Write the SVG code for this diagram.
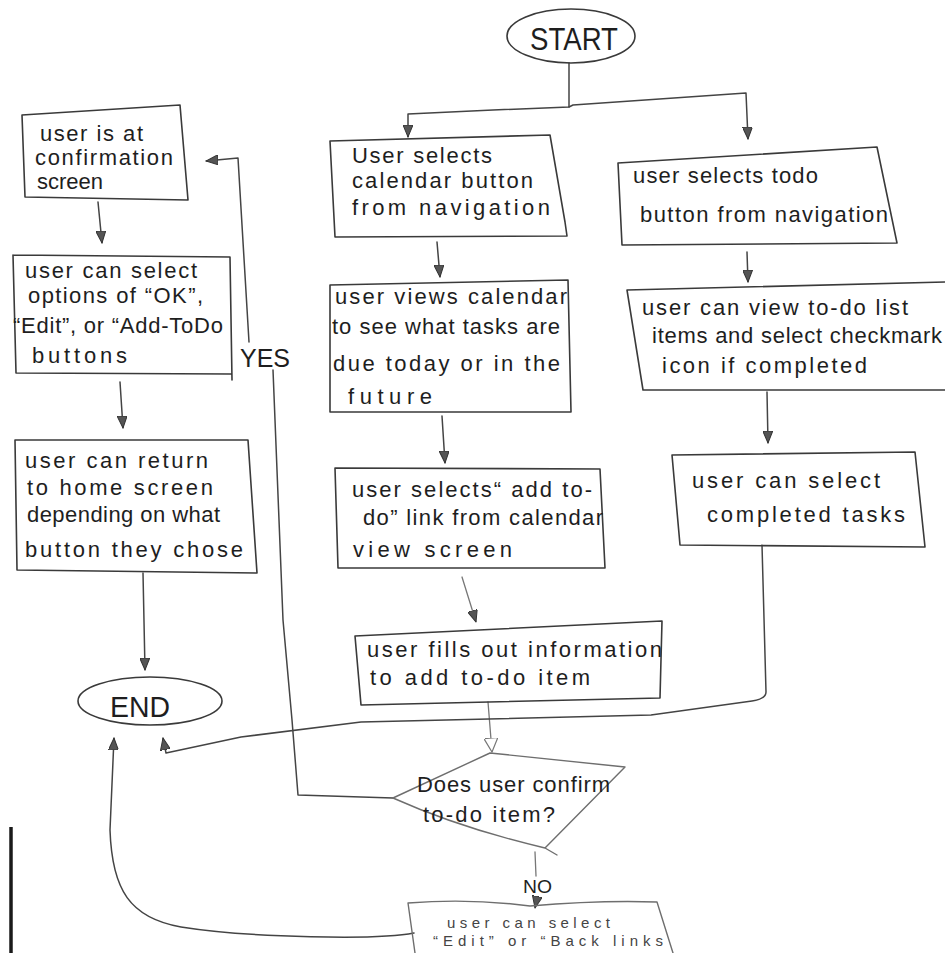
<svg xmlns="http://www.w3.org/2000/svg" width="945" height="953" viewBox="0 0 945 953">
<defs>
<style>
.box{fill:none;stroke:#3a3a3a;stroke-width:1.6;stroke-linejoin:round;stroke-linecap:round}
.faint{fill:none;stroke:#6e6e6e;stroke-width:1.4;stroke-linejoin:round;stroke-linecap:round}
.con{fill:none;stroke:#444;stroke-width:1.5;stroke-linecap:round;stroke-linejoin:round}
.conf{fill:none;stroke:#777;stroke-width:1.3;stroke-linecap:round;stroke-linejoin:round}
.t{font-family:"Liberation Sans",Arial,sans-serif;font-size:22px;fill:#1e1e1e}
.ts{font-family:"Liberation Sans",Arial,sans-serif;font-size:15px;fill:#444}
.tb{font-family:"Liberation Sans",Arial,sans-serif;fill:#1e1e1e}
</style>
<marker id="ah" viewBox="0 0 12 10" markerWidth="12" markerHeight="10" refX="12" refY="5" orient="auto" markerUnits="userSpaceOnUse">
<path d="M0,0 L12,5 L0,10 Z" fill="#555" stroke="#333" stroke-width="1"/>
</marker>
<marker id="ao" viewBox="0 0 14 14" markerWidth="14" markerHeight="14" refX="14" refY="7" orient="auto" markerUnits="userSpaceOnUse">
<path d="M0,0 L14,7 L0,14 Z" fill="#fff" stroke="#777" stroke-width="1.2"/>
</marker>
</defs>
<rect width="945" height="953" fill="#ffffff"/>
<line x1="11" y1="827" x2="11" y2="953" stroke="#1a1a1a" stroke-width="3.5"/>

<g id="connectors">
<path class="con" d="M569,63 L569,107 L493,110 L408,114 L408,137" marker-end="url(#ah)"/>
<path class="con" d="M569,107 L573,105 L746,93 L748,139" marker-end="url(#ah)"/>
<path class="con" d="M437,242 L440,277" marker-end="url(#ah)"/>
<path class="con" d="M442,416 L445,463" marker-end="url(#ah)"/>
<path class="conf" d="M462,577 L476,622" marker-end="url(#ah)"/>
<path class="conf" d="M488,702 L492,752" marker-end="url(#ao)"/>
<path class="conf" d="M535,852 L536,876"/>
<path class="conf" d="M537,898 L535,908" marker-end="url(#ah)"/>
<path class="con" d="M747,252 L748,282" marker-end="url(#ah)"/>
<path class="con" d="M767,392 L768,443" marker-end="url(#ah)"/>
<path class="con" d="M762,545 L766,692 Q766,699 752,701 L651,715 L361,722 L241,737 L166,753 L163,738" marker-end="url(#ah)"/>
<path class="con" d="M98,202 L102,243" marker-end="url(#ah)"/>
<path class="con" d="M120,382 L123,428" marker-end="url(#ah)"/>
<path class="con" d="M143,573 L145,670" marker-end="url(#ah)"/>
<path class="con" d="M393,798 L298,795 L292,720 L283,620 L273,370"/>
<path class="con" d="M249,342 L238,158 L206,161" marker-end="url(#ah)"/>
<path class="con" d="M414,933 C380,940 250,938 181,927 C130,918 112,890 110,830 L114,738" marker-end="url(#ah)"/>
<text class="tb" x="240" y="367" font-size="26" textLength="50" lengthAdjust="spacingAndGlyphs">YES</text>
<text class="tb" x="523" y="893" font-size="18" fill="#333" textLength="29" lengthAdjust="spacingAndGlyphs">NO</text>
</g>

<g id="start">
<ellipse cx="571" cy="36" rx="64" ry="27" class="box"/>
<text class="tb" x="530" y="50" font-size="31" textLength="88" lengthAdjust="spacingAndGlyphs">START</text>
</g>

<g id="end">
<ellipse cx="150" cy="701" rx="72" ry="24" class="box"/>
<text class="tb" x="110" y="717" font-size="30" textLength="60" lengthAdjust="spacingAndGlyphs">END</text>
</g>

<g id="confirm-screen">
<path class="box" d="M22,115 L180,105 L188,200 L25,197 Z"/>
<text class="t" x="40" y="141" font-size="20" textLength="103">user is at</text>
<text class="t" x="35" y="165" font-size="20" textLength="138">confirmation</text>
<text class="t" x="37" y="189" font-size="20" textLength="66">screen</text>
</g>

<g id="select-options">
<path class="box" d="M13,255 L230,257 L232,380 M231,374 L16,373 L13,255"/>
<text class="t" x="25" y="278" textLength="172">user can select</text>
<text class="t" x="28" y="303" textLength="175">options of “OK”,</text>
<text class="t" x="13" y="333" textLength="210">“Edit”, or “Add-ToDo</text>
<text class="t" x="32" y="363" textLength="95">buttons</text>
</g>

<g id="return-home">
<path class="box" d="M15,440 L248,440 L257,573 L17,570 Z"/>
<text class="t" x="25" y="468" textLength="183">user can return</text>
<text class="t" x="27" y="495" textLength="186">to home screen</text>
<text class="t" x="27" y="522" textLength="193">depending on what</text>
<text class="t" x="25" y="557" textLength="218">button they chose</text>
</g>

<g id="select-calendar">
<path class="box" d="M330,141 L550,135 L565,222 L567,236 L335,237 Z"/>
<text class="t" x="352" y="163" textLength="140">User selects</text>
<text class="t" x="352" y="188" textLength="181">calendar button</text>
<text class="t" x="352" y="215" textLength="198">from navigation</text>
</g>

<g id="view-calendar">
<path class="box" d="M330,285 L568,280 L571,412 L330,412 Z"/>
<text class="t" x="335" y="304" textLength="232">user views calendar</text>
<text class="t" x="332" y="334" textLength="228">to see what tasks are</text>
<text class="t" x="333" y="371" textLength="227">due today or in the</text>
<text class="t" x="348" y="404" textLength="84">future</text>
</g>

<g id="add-todo-link">
<path class="box" d="M335,468 L600,469 L605,568 L338,568 Z"/>
<text class="t" x="352" y="497" textLength="240">user selects“ add to-</text>
<text class="t" x="363" y="525" textLength="240">do” link from calendar</text>
<text class="t" x="353" y="557" textLength="159">view screen</text>
</g>

<g id="fill-info">
<path class="box" d="M355,636 L662,621 L660,698 L361,705 Z"/>
<text class="t" x="367" y="657" textLength="295">user fills out information</text>
<text class="t" x="370" y="685" textLength="220">to add to-do item</text>
</g>

<g id="decision">
<path class="faint" d="M490,753 L625,767 L545,848 Q460,828 393,798 Z M545,848 L557,855"/>
<text class="t" x="417" y="792" font-size="20" fill="#333" textLength="193">Does user confirm</text>
<text class="t" x="423" y="822" font-size="20" fill="#333" textLength="132">to-do item?</text>
</g>

<g id="edit-back">
<path class="faint" d="M415,953 L408,903 Q470,898 530,906 Q600,900 657,902 L673,953"/>
<text class="ts" x="447" y="928" textLength="163">user can select</text>
<text class="ts" x="433" y="946" textLength="230">“Edit” or “Back links</text>
</g>

<g id="select-todo">
<path class="box" d="M618,163 L877,147 L897,243 L622,245 Z"/>
<text class="t" x="633" y="183" textLength="185">user selects todo</text>
<text class="t" x="640" y="222" textLength="248">button from navigation</text>
</g>

<g id="view-todo">
<path class="box" d="M945,282 L627,290 L643,390 L945,390"/>
<text class="t" x="642" y="315" textLength="266">user can view to-do list</text>
<text class="t" x="652" y="343" textLength="290">items and select checkmark</text>
<text class="t" x="662" y="373" textLength="205">icon if completed</text>
</g>

<g id="select-completed">
<path class="box" d="M672,455 L915,452 L925,547 L680,545 Z"/>
<text class="t" x="692" y="488" textLength="188">user can select</text>
<text class="t" x="707" y="522" textLength="198">completed tasks</text>
</g>
</svg>
